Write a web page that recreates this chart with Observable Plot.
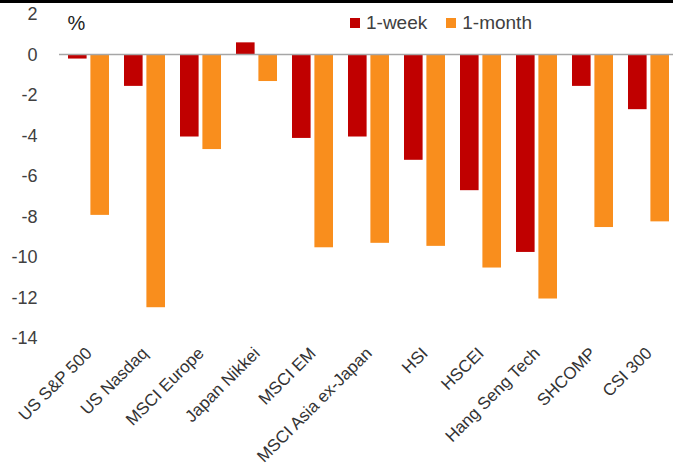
<!DOCTYPE html>
<html><head><meta charset="utf-8">
<script src="https://cdn.jsdelivr.net/npm/d3@7"></script>
<script src="https://cdn.jsdelivr.net/npm/@observablehq/plot@0.6"></script>
<style>
body{margin:0;background:#fff;font-family:"Liberation Sans",Arial,sans-serif;}
#wrap{position:relative;width:673px;height:465px;overflow:hidden;background:#fff;}
#topbar{position:absolute;left:0;top:0;width:673px;height:3px;background:#000;}
#legend{position:absolute;left:350px;top:12px;display:flex;align-items:center;font-size:19px;color:#404040;}
.item{display:flex;align-items:center;margin-right:19px;}
.sw{width:10px;height:10px;margin-right:6px;}
</style></head><body><div id="wrap"><div id="topbar"></div><div id="legend"></div></div>
<script>
const categories = ["US S&P 500","US Nasdaq","MSCI Europe","Japan Nikkei","MSCI EM","MSCI Asia ex-Japan","HSI","HSCEI","Hang Seng Tech","SHCOMP","CSI 300"];
const week = [-0.2,-1.55,-4.05,0.6,-4.12,-4.05,-5.2,-6.7,-9.75,-1.55,-2.7];
const month = [-7.92,-12.48,-4.67,-1.31,-9.52,-9.3,-9.45,-10.52,-12.05,-8.52,-8.24];
const seriesNames = ["1-week","1-month"];
const colors = ["#C00000","#F98E1D"];
const yTicks = [2,0,-2,-4,-6,-8,-10,-12,-14];
const unitLabel = "%";

const weekData = categories.map((c,i)=>({cat:c, series:seriesNames[0], value:week[i]}));
const monthData = categories.map((c,i)=>({cat:c, series:seriesNames[1], value:month[i]}));

const chart = Plot.plot({
  width:673, height:465,
  marginTop:14, marginBottom:127, marginLeft:59, marginRight:-4,
  style:{fontFamily:'"Liberation Sans",Arial,sans-serif', fontSize:"18px", color:"#404040", background:"transparent", overflow:"visible"},
  x:{domain:categories, paddingInner:0.27, paddingOuter:0.135, label:null},
  y:{domain:[-14,2], label:null},
  color:{domain:seriesNames, range:colors},
  marks:[
    Plot.barY(weekData,{x:"cat", y:"value", fill:"series", insetRight:22.4}),
    Plot.barY(monthData,{x:"cat", y:"value", fill:"series", insetLeft:22.4}),
    Plot.ruleY([0],{stroke:"#A6A6A6", strokeWidth:1.5, dy:-0.5}),
    Plot.axisY({ticks:yTicks, tickFormat:d=>String(d), tickSize:0, tickPadding:22, label:null, fontSize:18, fill:"#404040"}),
    Plot.axisX({tickSize:0, tickPadding:12, tickRotate:-45, label:null, fontSize:17, fill:"#333"}),
    Plot.text([unitLabel],{frameAnchor:"top-left", dx:8, dy:9, fontSize:20, fill:"#222", lineAnchor:"middle", textAnchor:"start"})
  ]
});
document.getElementById("wrap").appendChild(chart);
chart.style.position="absolute"; chart.style.left="0"; chart.style.top="0";

const lg = document.getElementById("legend");
seriesNames.forEach((s,i)=>{
  const it=document.createElement("div"); it.className="item";
  const sw=document.createElement("div"); sw.className="sw"; sw.style.background=colors[i];
  const t=document.createElement("span"); t.textContent=s;
  it.appendChild(sw); it.appendChild(t); lg.appendChild(it);
});
document.getElementById("wrap").appendChild(document.getElementById("topbar"));
document.getElementById("wrap").appendChild(lg);
</script></body></html>
